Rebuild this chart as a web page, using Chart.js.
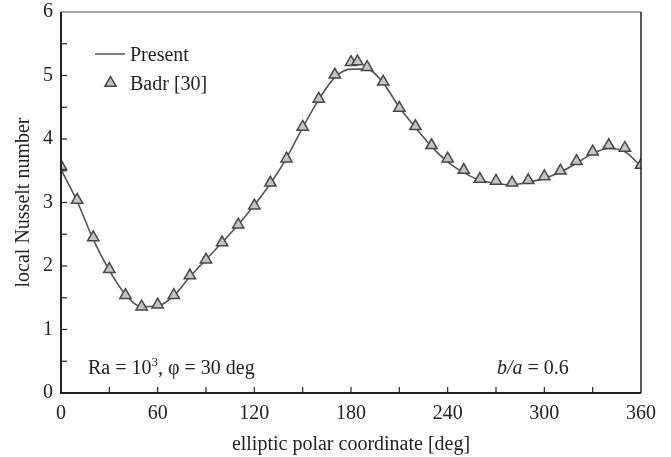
<!DOCTYPE html>
<html>
<head>
<meta charset="utf-8">
<script src="https://cdn.jsdelivr.net/npm/chart.js@4/dist/chart.umd.min.js"></script>
<style>
html,body{margin:0;padding:0;background:#fff;}
#wrap{width:671px;height:457px;position:relative;}
</style>
</head>
<body>
<div id="wrap"><canvas id="c" width="671" height="457"></canvas></div>
<script>
// ---- data ----
const presentAngles = [0,10,20,30,40,50,60,70,80,90,100,110,120,130,140,150,160,170,180,190,200,210,220,230,240,250,260,270,280,290,300,310,320,330,340,350,360];
const presentNu     = [3.52,3.02,2.42,1.93,1.55,1.36,1.37,1.53,1.83,2.10,2.37,2.65,2.96,3.30,3.70,4.18,4.62,4.97,5.10,5.10,4.88,4.50,4.18,3.88,3.64,3.47,3.35,3.30,3.28,3.32,3.38,3.48,3.62,3.77,3.85,3.80,3.57];
const badrAngles = [0,10,20,30,40,50,60,70,80,90,100,110,120,130,140,150,160,170,180,184,190,200,210,220,230,240,250,260,270,280,290,300,310,320,330,340,350,360];
const badrNu     = [3.57,3.04,2.45,1.95,1.54,1.36,1.39,1.54,1.85,2.10,2.37,2.65,2.95,3.31,3.69,4.19,4.63,5.01,5.21,5.22,5.13,4.90,4.49,4.20,3.90,3.69,3.51,3.37,3.34,3.31,3.35,3.41,3.50,3.65,3.80,3.90,3.86,3.59];
const xTickLabels = [0,60,120,180,240,300,360];
const yTickLabels = [0,1,2,3,4,5,6];
const seriesNames = ['Present','Badr [30]'];

const FONT = '"Liberation Serif", "DejaVu Serif", serif';
const FS = 20;
const LINE_COLOR = '#555555';
const MARK_FILL = '#c4c4c4';
const MARK_STROKE = '#464646';

const decor = {
  id: 'decor',
  afterDraw(chart) {
    const ctx = chart.ctx;
    const a = chart.chartArea;
    const xs = chart.scales.x, ys = chart.scales.y;
    ctx.save();
    // frame
    ctx.lineWidth = 1.5;
    ctx.strokeStyle = '#888';
    ctx.beginPath(); ctx.moveTo(a.left, a.top); ctx.lineTo(a.right, a.top); ctx.stroke();
    ctx.strokeStyle = '#222';
    ctx.beginPath(); ctx.moveTo(a.right, a.top); ctx.lineTo(a.right, a.bottom); ctx.stroke();
    ctx.lineWidth = 2;
    ctx.beginPath(); ctx.moveTo(a.left, a.top); ctx.lineTo(a.left, a.bottom); ctx.lineTo(a.right, a.bottom); ctx.stroke();
    // inward ticks
    ctx.lineWidth = 1.2;
    xs.ticks.forEach(t => {
      const px = xs.getPixelForValue(t.value);
      if (t.value <= 0 || t.value >= 360) return;
      ctx.beginPath(); ctx.moveTo(px, a.bottom); ctx.lineTo(px, a.bottom - 6); ctx.stroke();
    });
    ys.ticks.forEach(t => {
      const py = ys.getPixelForValue(t.value);
      if (t.value <= 0 || t.value >= 6) return;
      ctx.beginPath(); ctx.moveTo(a.left, py); ctx.lineTo(a.left + 6, py); ctx.stroke();
    });
    // legend
    ctx.strokeStyle = LINE_COLOR; ctx.lineWidth = 1.5;
    ctx.beginPath(); ctx.moveTo(95, 54); ctx.lineTo(125, 54); ctx.stroke();
    ctx.fillStyle = MARK_FILL; ctx.strokeStyle = MARK_STROKE; ctx.lineWidth = 1.5;
    ctx.beginPath();
    const r = 6.5;
    for (let i = 0; i < 3; i++) {
      const ang = -Math.PI/2 + i*2*Math.PI/3;
      const px = 110.5 + r*Math.cos(ang), py = 83 + r*Math.sin(ang);
      if (i === 0) ctx.moveTo(px, py); else ctx.lineTo(px, py);
    }
    ctx.closePath(); ctx.fill(); ctx.stroke();
    ctx.fillStyle = '#222';
    ctx.font = FS + 'px ' + FONT;
    ctx.textBaseline = 'alphabetic';
    ctx.textAlign = 'left';
    ctx.fillText(seriesNames[0], 130, 61);
    ctx.fillText(seriesNames[1], 130, 90);
    // annotations
    let x = 88; const y = 374;
    const parts1 = 'Ra = 10';
    ctx.fillText(parts1, x, y); x += ctx.measureText(parts1).width;
    ctx.font = '13px ' + FONT;
    ctx.fillText('3', x, y - 8); x += ctx.measureText('3').width;
    ctx.font = FS + 'px ' + FONT;
    ctx.fillText(', \u03c6 = 30 deg', x, y);
    x = 497;
    ctx.font = 'italic ' + FS + 'px ' + FONT;
    ctx.fillText('b/a', x, y); x += ctx.measureText('b/a').width;
    ctx.font = FS + 'px ' + FONT;
    ctx.fillText(' = 0.6', x, y);
    ctx.restore();
  }
};

new Chart(document.getElementById('c'), {
  type: 'scatter',
  data: {
    datasets: [
      {
        label: seriesNames[0],
        data: presentAngles.map((a, i) => ({x: a, y: presentNu[i]})),
        showLine: true,
        borderColor: LINE_COLOR,
        borderWidth: 1.6,
        pointRadius: 0,
        cubicInterpolationMode: 'monotone',
        order: 2
      },
      {
        label: seriesNames[1],
        data: badrAngles.map((a, i) => ({x: a, y: badrNu[i]})),
        showLine: false,
        pointStyle: 'triangle',
        pointRadius: 6.5,
        pointBackgroundColor: MARK_FILL,
        pointBorderColor: MARK_STROKE,
        pointBorderWidth: 1.5,
        order: 1
      }
    ]
  },
  options: {
    responsive: false,
    animation: false,
    layout: {padding: {left: 0, top: 12, right: 30, bottom: 0}},
    plugins: {legend: {display: false}, tooltip: {enabled: false}},
    scales: {
      x: {
        type: 'linear', min: 0, max: 360,
        afterFit(s) { s.height = 64; s.paddingLeft = 0; s.paddingRight = 0; },
        afterBuildTicks(s) { s.ticks = []; for (let v = 0; v <= 360; v += 30) s.ticks.push({value: v}); },
        ticks: {
          stepSize: 30, autoSkip: false, maxRotation: 0, padding: 9,
          color: '#222', font: {family: FONT, size: FS},
          callback: v => (xTickLabels.includes(v) ? String(v) : '')
        },
        grid: {display: true, drawOnChartArea: false, drawTicks: false},
        border: {display: false},
        title: {display: true, text: 'elliptic polar coordinate [deg]', color: '#222', font: {family: FONT, size: FS}, padding: {top: 4, bottom: 0}}
      },
      y: {
        type: 'linear', min: 0, max: 6,
        afterFit(s) { s.width = 61; s.paddingTop = 0; s.paddingBottom = 0; },
        afterBuildTicks(s) { s.ticks = []; for (let v = 0; v <= 6; v += 0.5) s.ticks.push({value: v}); },
        ticks: {
          stepSize: 0.5, autoSkip: false, padding: 8,
          color: '#222', font: {family: FONT, size: FS},
          callback: v => (yTickLabels.includes(v) ? String(v) : '')
        },
        grid: {display: true, drawOnChartArea: false, drawTicks: false},
        border: {display: false},
        title: {display: true, text: 'local Nusselt number', color: '#222', font: {family: FONT, size: FS}, padding: {top: 12, bottom: 0}}
      }
    }
  },
  plugins: [decor]
});
</script>
</body>
</html>
